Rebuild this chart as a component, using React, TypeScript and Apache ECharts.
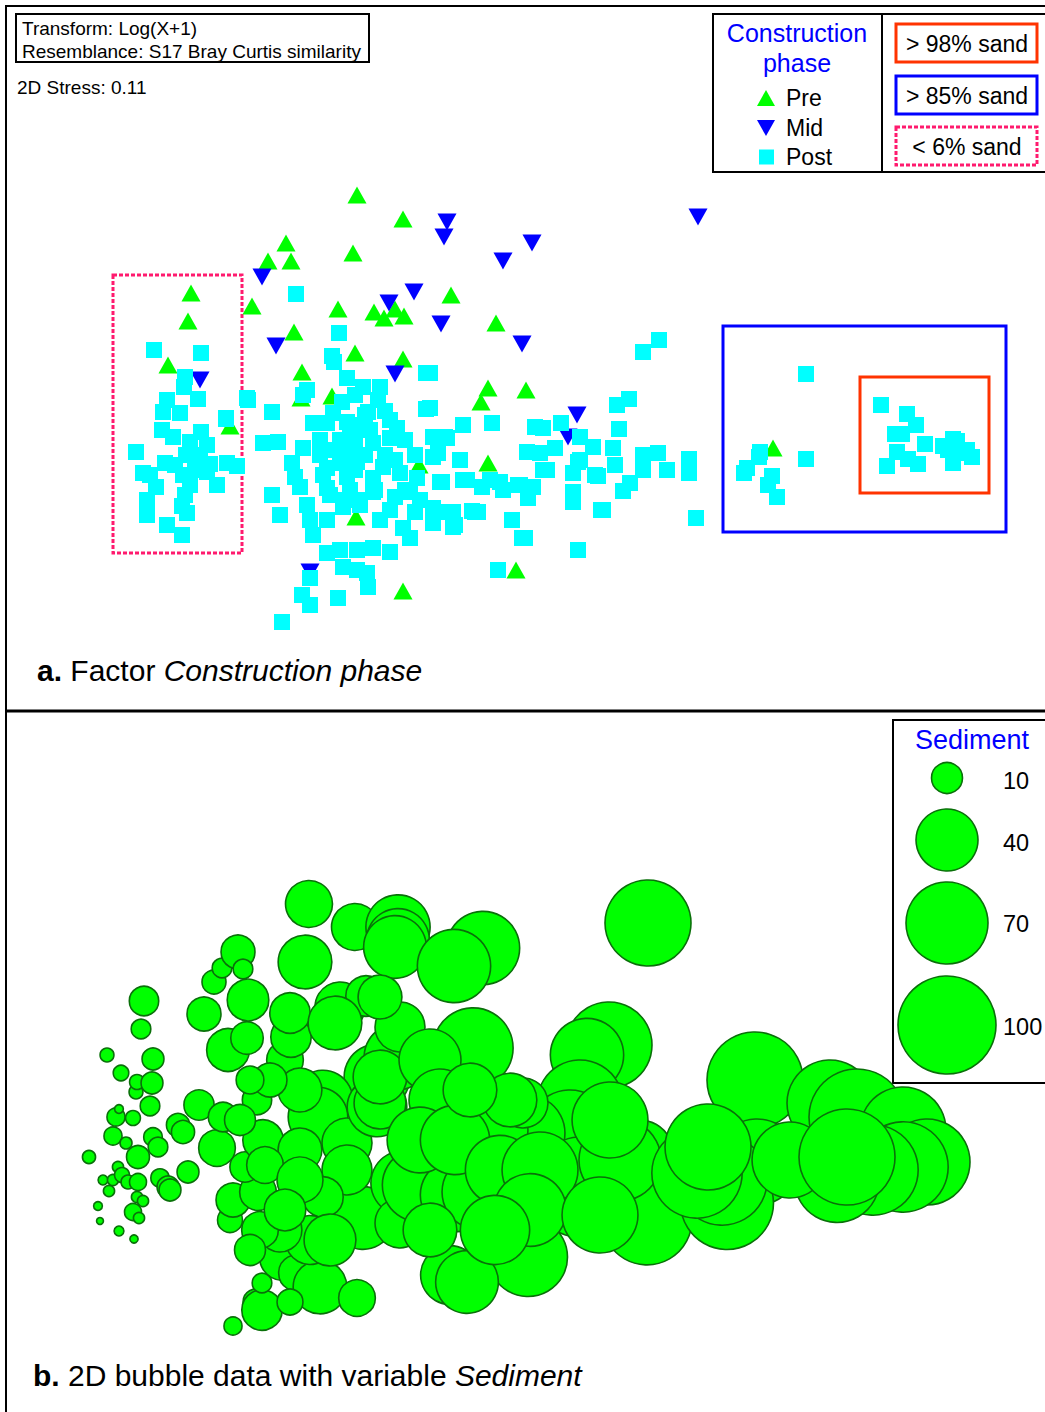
import React, { useEffect, useRef } from 'react';
import * as echarts from 'echarts';

const FONT = '"Liberation Sans", Arial, sans-serif';

// MDS ordination scores (plot units), panel a
const preSamples: number[][] = [
  [357,195],[403,219],[286,243],[268,261],[291,261],[353,253],[191,293],[188,321],[252,306],[338,309],
  [374,312],[384,318],[395,309],[404,316],[451,295],[496,323],[294,332],[355,353],[403,359],[168,365],
  [302,372],[332,396],[301,398],[488,388],[481,402],[526,390],[230,426],[419,465],[488,463],[356,517],
  [516,570],[403,591],[773,448]
];

const midSamples: number[][] = [
  [447,222],[444,237],[532,243],[503,261],[698,217],[262,277],[414,292],[389,303],[441,324],[522,344],
  [276,346],[395,374],[200,380],[577,415],[568,437],[310,572]
];

const postSamples: number[][] = [
  // low-sand group
  [154,350],[201,353],[185,377],[184,387],[167,400],[198,399],[247,398],[163,412],[180,413],[226,419],
  [162,430],[173,437],[201,432],[136,452],[186,455],[207,445],[165,463],[210,464],[227,463],[237,466],
  [150,475],[183,475],[207,472],[156,487],[185,495],[217,485],[147,500],[147,515],[182,506],[187,513],
  [167,525],[182,535],[190,442],[143,473],[195,470],[175,465],[200,455],[190,485],
  // central cloud
  [296,294],[339,333],[332,356],[334,362],[347,378],[363,387],[380,387],[426,373],[307,390],[303,395],
  [342,402],[248,400],[272,412],[226,418],[385,411],[368,412],[426,409],[333,413],[263,443],[278,442],
  [313,423],[327,423],[347,422],[360,428],[397,428],[463,425],[492,423],[535,427],[543,428],[561,423],
  [580,437],[593,447],[433,437],[447,438],[303,448],[330,450],[350,447],[373,443],[390,438],[292,463],
  [327,468],[340,463],[357,462],[383,467],[400,473],[433,457],[460,460],[527,452],[540,453],[555,448],
  [580,460],[543,470],[295,477],[323,475],[347,477],[373,478],[417,478],[440,482],[463,480],[490,480],
  [500,482],[520,485],[533,487],[573,473],[595,475],[300,487],[327,488],[350,490],[373,492],[410,492],
  [503,490],[573,492],[272,495],[307,505],[343,507],[360,505],[390,510],[415,512],[433,508],[453,512],
  [475,512],[528,498],[573,502],[280,515],[310,520],[327,520],[380,520],[403,528],[433,523],[453,527],
  [512,520],[313,535],[410,538],[522,538],[603,510],[327,553],[340,550],[357,550],[373,548],[390,552],
  [343,567],[357,570],[367,573],[310,578],[302,595],[310,605],[338,598],[368,587],[282,622],[498,570],
  [578,550],[355,440],[345,455],[365,455],[355,470],[370,430],[340,440],[320,455],[385,455],[395,460],
  [375,490],[360,500],[345,500],[330,495],[320,440],[350,425],[365,415],[378,400],[355,395],[390,420],
  [405,440],[415,455],[405,490],[395,497],[420,500],
  // right of centre
  [659,340],[643,352],[629,399],[617,405],[619,429],[430,373],[430,408],[445,437],[438,453],[547,470],
  [578,462],[613,448],[615,465],[643,455],[658,453],[643,470],[667,470],[689,459],[689,473],[598,476],
  [630,483],[623,491],[442,482],[467,480],[518,485],[482,487],[601,510],[525,538],[696,518],[455,525],
  [448,512],[472,511],[478,512],
  // high-sand group
  [806,374],[806,459],[760,452],[759,457],[747,468],[744,473],[772,476],[768,485],[777,497],[881,405],
  [907,414],[916,425],[895,434],[902,434],[925,444],[897,452],[908,459],[918,464],[887,466],[943,446],
  [953,439],[957,441],[953,457],[967,450],[972,457],[953,463],[960,453],[948,450]
];

// panel b: [x, y, Sediment]
const sedimentBubbles: number[][] = [
  [89,1157,1.8],[100,1221,0.5],[98,1206,0.8],[103,1180,1],[107,1055,2],[109,1191,1.3],[113,1136,3.4],
  [113,1180,1.3],[116,1117,3.4],[118,1167,1.3],[119,1109,0.8],[119,1231,1],[121,1073,2.5],[122,1175,2.3],
  [126,1143,1.5],[128,1182,2],[133,1118,2.3],[133,1212,3],[134,1239,0.7],[136,1092,2],[137,1082,2.3],
  [137,1197,1.3],[138,1157,5.5],[138,1182,3],[139,1218,1.3],[141,1029,4],[143,1201,1.3],[144,1001,9],
  [150,1106,4],[152,1083,5],[153,1059,5],[153,1137,3.6],[158,1147,4],[160,1178,3.5],[168,1187,5],
  [170,1190,5],[178,1125,5.6],[183,1132,5.6],[188,1172,5],[199,1105,9.5],[204,1014,12],[214,982,6],
  [217,1148,14],[222,968,4],[223,1117,9],[228,1050,19],[238,952,12],[243,969,4],[247,1038,11],
  [248,1000,18],[233,1326,3.4],
  [305,962,30],[309,904,23],[355,927,23],[398,927,43],[398,940,41],[285,1060,14],[291,1037,17],
  [290,1013,17],[340,1007,26],[366,996,17],[335,1023,30],[377,1077,45],[323,1100,37],[318,1117,37],
  [347,1143,26],[377,1107,37],[363,1218,41],[347,1170,26],[323,1197,17],[283,1257,23],[297,1273,14],
  [320,1287,30],[357,1298,14],[256,1302,7],[262,1310,17],[262,1283,4],[290,1302,7],[230,1220,6.5],
  [233,1200,12],[258,1192,14],[245,1167,9.5],[263,1140,17],[257,1100,9],[403,1183,43],[397,1057,45],
  [395,947,41],[400,1027,26],[380,997,20],[380,1103,28],[380,1077,30],[400,1223,26],[300,1150,20],
  [310,1240,25],[280,1230,20],[260,1230,14],[250,1250,10],[300,1090,20],[270,1080,12],[250,1080,8],
  [240,1120,10],[265,1165,14],[300,1180,22],[330,1240,28],[285,1210,18],
  [648,923,77],[483,948,56],[454,966,56],[473,1048,67],[609,1045,77],[587,1055,56],[580,1103,77],
  [570,1133,77],[527,1133,60],[490,1130,60],[443,1120,41],[523,1103,26],[577,1195,72],[580,1180,77],
  [419,1185,56],[457,1195,56],[480,1192,60],[528,1257,65],[450,1275,36],[467,1282,41],[647,1220,84],
  [640,1153,45],[620,1160,70],[430,1060,40],[440,1100,40],[420,1140,45],[455,1140,50],[500,1170,50],
  [540,1170,60],[510,1100,30],[470,1090,30],[530,1210,55],[495,1230,50],[430,1230,30],[600,1215,60],
  [610,1120,60],
  [755,1080,96],[830,1103,77],[857,1117,96],[903,1130,77],[927,1162,77],[903,1167,85],[873,1170,85],
  [837,1180,75],[757,1162,77],[727,1203,90],[722,1180,85],[697,1173,85],[708,1147,77],[790,1160,60],
  [847,1157,96]
];

const bubbleLegendValues = [10, 40, 70, 100];
const phaseLabels = ['Pre', 'Mid', 'Post'];
const sandLabels = ['> 98% sand', '> 85% sand', '< 6% sand'];

const bubbleDiameter = (v: number) => 9.8 * Math.sqrt(v);

function txt(text: string, x: number, y: number, size: number, opts: any = {}) {
  return {
    type: 'text',
    x, y,
    silent: true,
    style: {
      text,
      fontSize: size,
      fontFamily: FONT,
      fill: opts.fill || '#000',
      textAlign: opts.align || 'left',
      textVerticalAlign: 'middle',
      align: opts.align || 'left',
      verticalAlign: 'middle',
      ...(opts.rich ? { rich: opts.rich } : {})
    }
  };
}

function rect(x: number, y: number, w: number, h: number, stroke: string, lw: number, dash?: number[]) {
  return {
    type: 'rect', silent: true,
    shape: { x, y, width: w, height: h },
    style: { fill: 'none', stroke, lineWidth: lw, ...(dash ? { lineDash: dash } : {}) }
  };
}

function line(x1: number, y1: number, x2: number, y2: number, lw: number) {
  return { type: 'line', silent: true, shape: { x1, y1, x2, y2 }, style: { stroke: '#000', lineWidth: lw } };
}

const BUBBLE_FILL = '#00ff00';
const BUBBLE_EDGE = '#0a700a';

export default function App() {
  const ref = useRef<HTMLDivElement>(null);
  useEffect(() => {
    if (!ref.current) return;
    const chart = echarts.init(ref.current, undefined, { renderer: 'svg' });
    const legendY = [98, 128, 157];
    const legendSymbols = [
      { type: 'polygon', silent: true, shape: { points: [[757, legendY[0] + 8], [775, legendY[0] + 8], [766, legendY[0] - 8]] }, style: { fill: '#00ff00' } },
      { type: 'polygon', silent: true, shape: { points: [[757, legendY[1] - 8], [775, legendY[1] - 8], [766, legendY[1] + 8]] }, style: { fill: '#0000ff' } },
      { type: 'rect', silent: true, shape: { x: 759, y: legendY[2] - 7.5, width: 15, height: 15 }, style: { fill: '#00ffff' } }
    ];
    const sandColors = ['#ff3300', '#0000ff', '#ff1a6e'];
    const sandY = [24, 76, 127];
    const bubbleLegendY = [778, 840, 923, 1025];
    const bubbleLabelY = [781, 843, 924, 1027];
    const graphic: any[] = [
      line(6, 5, 6, 1412, 2),
      line(5, 6, 1045, 6, 2),
      line(5, 711, 1045, 711, 3),
      rect(16, 14, 353, 48, '#000', 2),
      txt('Transform: Log(X+1)', 22, 28, 19),
      txt('Resemblance: S17 Bray Curtis similarity', 22, 51, 19),
      txt('2D Stress: 0.11', 17, 87, 19),
      rect(713, 14, 340, 158, '#000', 2),
      line(882, 14, 882, 172, 2),
      txt('Construction', 797, 33, 25, { fill: '#0000ff', align: 'center' }),
      txt('phase', 797, 63, 25, { fill: '#0000ff', align: 'center' }),
      ...legendSymbols,
      ...phaseLabels.map((l, i) => txt(l, 786, legendY[i], 23)),
      ...sandLabels.map((l, i) => rect(896, sandY[i], 141, 38, sandColors[i], 3, i === 2 ? [4, 2] : undefined)),
      ...sandLabels.map((l, i) => txt(l, 967, sandY[i] + 20, 23, { align: 'center' })),
      rect(113, 275, 129, 278, '#ff1a6e', 3, [4, 2]),
      rect(723, 326, 283, 206, '#0000ff', 3),
      rect(860, 377, 129, 116, '#ff3300', 3),
      txt('{b|a.} Factor {i|Construction phase}', 37, 670, 30, {
        rich: {
          b: { fontWeight: 'bold', fontSize: 30, fontFamily: FONT },
          i: { fontStyle: 'italic', fontSize: 30, fontFamily: FONT }
        }
      }),
      rect(893, 720, 160, 363, '#000', 2),
      txt('Sediment', 972, 740, 27, { fill: '#0000ff', align: 'center' }),
      ...bubbleLegendValues.map((v, i) => ({
        type: 'circle', silent: true,
        shape: { cx: 947, cy: bubbleLegendY[i], r: bubbleDiameter(v) / 2 },
        style: { fill: BUBBLE_FILL, stroke: BUBBLE_EDGE, lineWidth: 1.6 }
      })),
      ...bubbleLegendValues.map((v, i) => txt(String(v), 1003, bubbleLabelY[i], 23.5)),
      txt('{b|b.} 2D bubble data with variable {i|Sediment}', 33, 1375, 30, {
        rich: {
          b: { fontWeight: 'bold', fontSize: 30, fontFamily: FONT },
          i: { fontStyle: 'italic', fontSize: 30, fontFamily: FONT }
        }
      })
    ];

    chart.setOption({
      animation: false,
      backgroundColor: '#fff',
      grid: [
        { left: 0, top: 0, width: 1045, height: 710 },
        { left: 0, top: 710, width: 1045, height: 702 }
      ],
      xAxis: [
        { gridIndex: 0, type: 'value', min: 0, max: 1045, show: false },
        { gridIndex: 1, type: 'value', min: 0, max: 1045, show: false }
      ],
      yAxis: [
        { gridIndex: 0, type: 'value', min: 0, max: 710, inverse: true, show: false },
        { gridIndex: 1, type: 'value', min: 710, max: 1412, inverse: true, show: false }
      ],
      series: [
        {
          name: 'Pre', type: 'scatter', xAxisIndex: 0, yAxisIndex: 0, symbol: 'triangle',
          symbolSize: [19, 17], itemStyle: { color: '#00ff00', opacity: 1 }, data: preSamples,
          emphasis: { disabled: true }, silent: true
        },
        {
          name: 'Mid', type: 'scatter', xAxisIndex: 0, yAxisIndex: 0, symbol: 'triangle', symbolRotate: 180,
          symbolSize: [19, 17], itemStyle: { color: '#0000ff', opacity: 1 }, data: midSamples,
          emphasis: { disabled: true }, silent: true
        },
        {
          name: 'Post', type: 'scatter', xAxisIndex: 0, yAxisIndex: 0, symbol: 'rect',
          symbolSize: 16, itemStyle: { color: '#00ffff', opacity: 1 }, data: postSamples,
          emphasis: { disabled: true }, silent: true
        },
        {
          name: 'Sediment', type: 'scatter', xAxisIndex: 1, yAxisIndex: 1, symbol: 'circle',
          symbolSize: (val: number[]) => bubbleDiameter(val[2]),
          itemStyle: { color: BUBBLE_FILL, borderColor: BUBBLE_EDGE, borderWidth: 1.6, opacity: 1 },
          data: sedimentBubbles, emphasis: { disabled: true }, silent: true
        }
      ],
      graphic
    });
    return () => chart.dispose();
  }, []);
  return <div ref={ref} style={{ position: 'absolute', left: 0, top: 0, width: 1045, height: 1412 }} />;
}
